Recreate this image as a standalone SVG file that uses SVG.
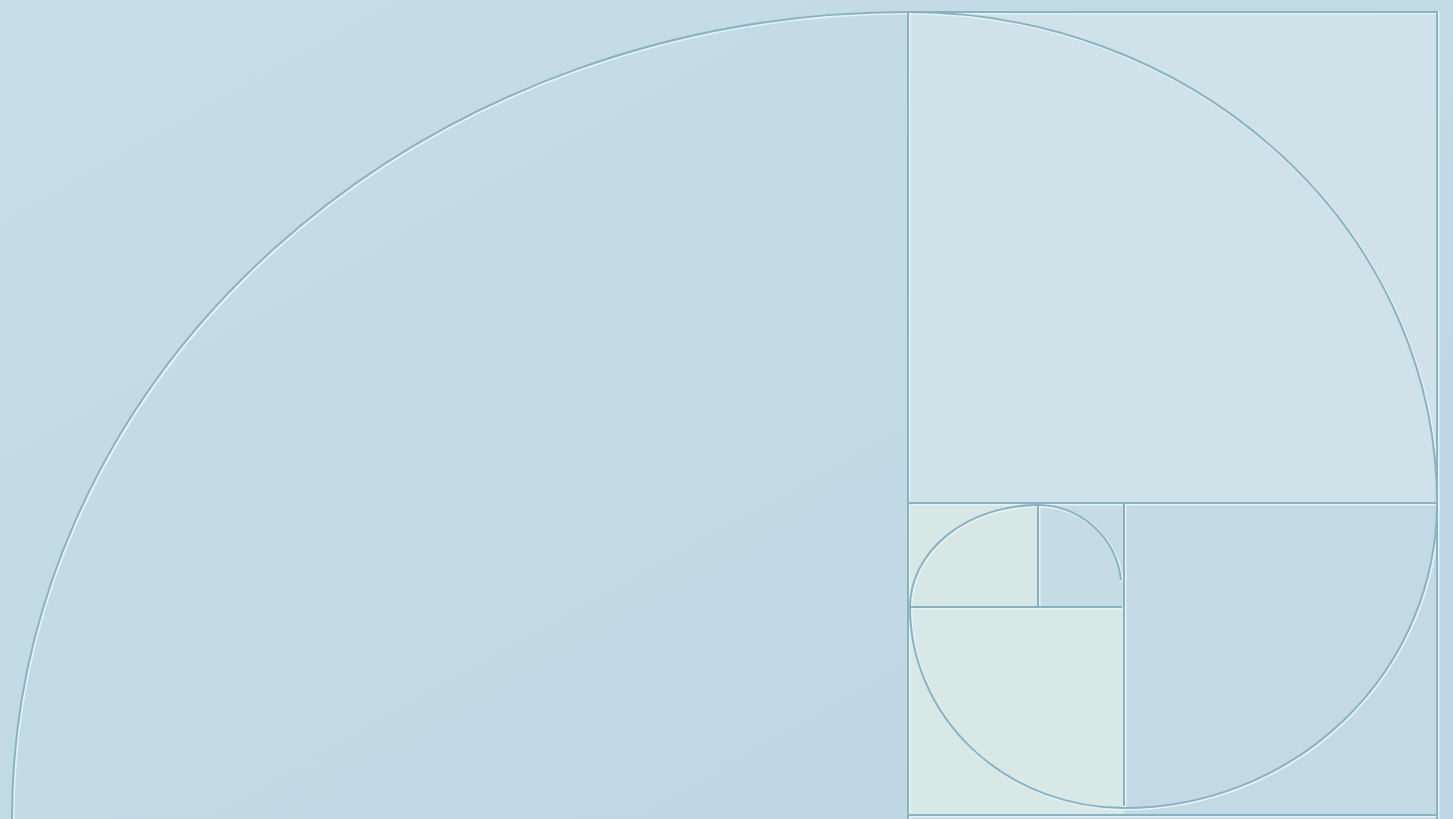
<svg xmlns="http://www.w3.org/2000/svg" width="1453" height="819" viewBox="0 0 1453 819">
<defs>
<style>
.hl{fill:none;stroke:#e6f2f6;stroke-width:3;}
.sh{fill:none;stroke:#8ab3c2;stroke-width:2;}
</style>
<linearGradient id="bg" x1="0" y1="0" x2="1" y2="1">
<stop offset="0" stop-color="#c6dde6"/>
<stop offset="1" stop-color="#bed7e2"/>
</linearGradient>
<g id="lines">
<path d="M908,12 V819 M908,12 H1437 V819 M908,503 H1437 M1124,503 V806 M908,815 H1437 M908,607 H1122 M1038,503 V607"/>
<path d="M12,819 A896,807 0 0 1 908,12 A529,491 0 0 1 1437,503 A313,305 0 0 1 1124,808 A214,201 0 0 1 910,607 A128,102 0 0 1 1038,505 A84,84 0 0 1 1121,580"/>
</g>
</defs>
<rect width="1453" height="819" fill="url(#bg)"/>
<g id="squares">
<rect x="908" y="12" width="529" height="491" fill="#cfe2ea"/>
<rect x="1124" y="503" width="313" height="312" fill="#c3dae4"/>
<rect x="908" y="607" width="216" height="208" fill="#d7e8e7"/>
<rect x="908" y="503" width="130" height="104" fill="#d6e7e5"/>
<rect x="1038" y="503" width="86" height="104" fill="#c6dce4"/>
</g>
<g id="spiral">
<use href="#lines" class="hl" transform="translate(1,1)"/>
<use href="#lines" class="sh"/>
</g>
</svg>
